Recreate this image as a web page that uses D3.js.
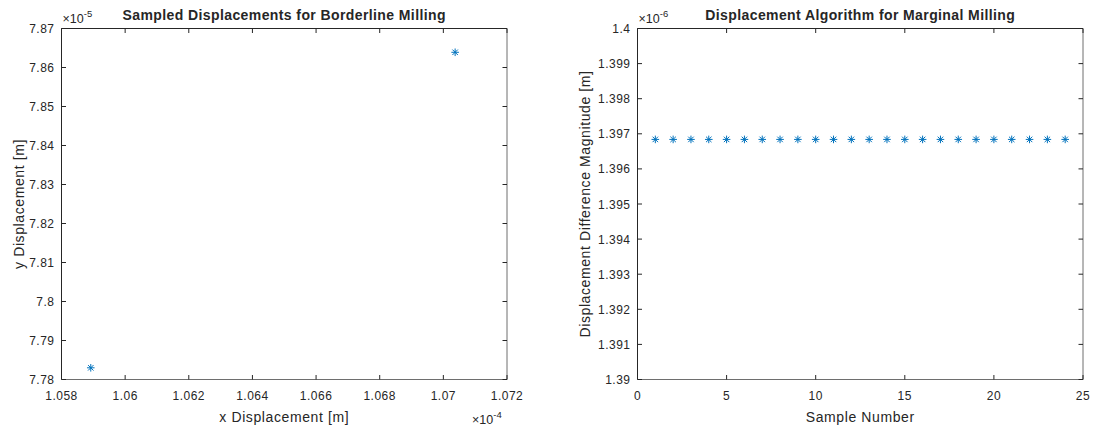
<!DOCTYPE html>
<html>
<head>
<meta charset="utf-8">
<script src="https://d3js.org/d3.v7.min.js"></script>
<style>
  body { margin: 0; background: #fff; }
  text { font-family: "Liberation Sans", Arial, sans-serif; fill: #262626; }
</style>
</head>
<body>
<svg width="1094" height="430"></svg>
<script>
// left chart: sampled displacements (in metres)
const leftX = [1.05892e-4, 1.07037e-4];
const leftY = [7.7830e-5, 7.8639e-5];
const leftXTicks = [1.058, 1.06, 1.062, 1.064, 1.066, 1.068, 1.07, 1.072];
const leftYTicks = [7.78, 7.79, 7.8, 7.81, 7.82, 7.83, 7.84, 7.85, 7.86, 7.87];

// right chart: displacement difference magnitude per sample
const sampleNum = d3.range(1, 25);
const diffMag = [1.39684e-6, 1.39684e-6, 1.39684e-6, 1.39684e-6, 1.39684e-6, 1.39684e-6,
                 1.39684e-6, 1.39684e-6, 1.39684e-6, 1.39684e-6, 1.39684e-6, 1.39684e-6,
                 1.39684e-6, 1.39684e-6, 1.39684e-6, 1.39684e-6, 1.39684e-6, 1.39684e-6,
                 1.39684e-6, 1.39684e-6, 1.39684e-6, 1.39684e-6, 1.39684e-6, 1.39684e-6];
const rightXTicks = [0, 5, 10, 15, 20, 25];
const rightYTicks = [1.39, 1.391, 1.392, 1.393, 1.394, 1.395, 1.396, 1.397, 1.398, 1.399, 1.4];

const svg = d3.select('svg');
const blue = '#0072BD';

function panel(o) {
  const g = svg.append('g');
  const x = d3.scaleLinear().domain(o.xdom).range([o.x0, o.x1]);
  const y = d3.scaleLinear().domain(o.ydom).range([o.y1, o.y0]);
  const tl = 4.5;

  // box
  g.append('line').attr('x1', o.x0).attr('x2', o.x1).attr('y1', o.y0).attr('y2', o.y0).attr('stroke', '#262626');
  g.append('line').attr('x1', o.x0).attr('x2', o.x0).attr('y1', o.y0).attr('y2', o.y1).attr('stroke', '#262626');
  g.append('line').attr('x1', o.x0).attr('x2', o.x1).attr('y1', o.y1).attr('y2', o.y1).attr('stroke', '#6e6e6e');
  g.append('line').attr('x1', o.x1).attr('x2', o.x1).attr('y1', o.y0).attr('y2', o.y1).attr('stroke', '#6e6e6e');

  o.xticks.forEach(t => {
    const px = x(t * o.xs);
    g.append('line').attr('x1', px).attr('x2', px).attr('y1', o.y1).attr('y2', o.y1 - tl).attr('stroke', '#262626');
    g.append('line').attr('x1', px).attr('x2', px).attr('y1', o.y0).attr('y2', o.y0 + tl).attr('stroke', '#262626');
    g.append('text').attr('x', px).attr('y', o.y1 + 20).attr('text-anchor', 'middle')
      .attr('font-size', 12).attr('letter-spacing', 0.5).text(d3.format('')(t));
  });
  o.yticks.forEach(t => {
    const py = y(t * o.ys);
    g.append('line').attr('x1', o.x0).attr('x2', o.x0 + tl).attr('y1', py).attr('y2', py).attr('stroke', '#262626');
    g.append('line').attr('x1', o.x1).attr('x2', o.x1 - tl).attr('y1', py).attr('y2', py).attr('stroke', '#262626');
    g.append('text').attr('x', o.x0 - 7).attr('y', py + 4.5).attr('text-anchor', 'end')
      .attr('font-size', 12).attr('letter-spacing', 0.5).text(d3.format('')(t));
  });

  // asterisk markers
  const r = 3.8, d = r * 0.72;
  o.xs_data.forEach((xv, i) => {
    const px = x(xv), py = y(o.ys_data[i]);
    const m = g.append('g').attr('stroke', blue).attr('stroke-width', 1);
    m.append('line').attr('x1', px - r).attr('x2', px + r).attr('y1', py).attr('y2', py);
    m.append('line').attr('x1', px).attr('x2', px).attr('y1', py - r).attr('y2', py + r);
    m.append('line').attr('x1', px - d).attr('x2', px + d).attr('y1', py - d).attr('y2', py + d);
    m.append('line').attr('x1', px - d).attr('x2', px + d).attr('y1', py + d).attr('y2', py - d);
  });

  // title and labels
  g.append('text').attr('x', (o.x0 + o.x1) / 2).attr('y', 20).attr('text-anchor', 'middle')
    .attr('font-size', 14).attr('letter-spacing', 0.4).attr('font-weight', 'bold').attr('fill', '#000').text(o.title);
  g.append('text').attr('x', (o.x0 + o.x1) / 2).attr('y', 422).attr('text-anchor', 'middle')
    .attr('font-size', 14).attr('letter-spacing', 0.6).text(o.xlabel);
  g.append('text').attr('transform', `translate(${o.ylx},${(o.y0 + o.y1) / 2}) rotate(-90)`)
    .attr('text-anchor', 'middle').attr('font-size', 14).attr('letter-spacing', 0.6).text(o.ylabel);

  // exponent markers
  if (o.yexp) {
    const t = g.append('text').attr('x', o.x0 + 1).attr('y', 23).attr('font-size', 12.5);
    t.append('tspan').text('\u00d710');
    t.append('tspan').attr('dy', -6).attr('font-size', 9.5).text(o.yexp);
  }
  if (o.xexp) {
    const t = g.append('text').attr('x', o.x1 - 35).attr('y', 424).attr('font-size', 12.5);
    t.append('tspan').text('\u00d710');
    t.append('tspan').attr('dy', -6).attr('font-size', 9.5).text(o.xexp);
  }
}

panel({
  x0: 61.5, x1: 507, y0: 28.5, y1: 379.5, ylx: 24,
  xdom: [1.058e-4, 1.072e-4], ydom: [7.78e-5, 7.87e-5],
  xs: 1e-4, ys: 1e-5,
  xticks: leftXTicks, yticks: leftYTicks,
  xs_data: leftX, ys_data: leftY,
  title: 'Sampled Displacements for Borderline Milling',
  xlabel: 'x Displacement [m]', ylabel: 'y Displacement [m]',
  yexp: '-5', xexp: '-4'
});

panel({
  x0: 637.5, x1: 1083, y0: 28.5, y1: 379.5, ylx: 590,
  xdom: [0, 25], ydom: [1.39e-6, 1.4e-6],
  xs: 1, ys: 1e-6,
  xticks: rightXTicks, yticks: rightYTicks,
  xs_data: sampleNum, ys_data: diffMag,
  title: 'Displacement Algorithm for Marginal Milling',
  xlabel: 'Sample Number', ylabel: 'Displacement Difference Magnitude [m]',
  yexp: '-6'
});
</script>
</body>
</html>
